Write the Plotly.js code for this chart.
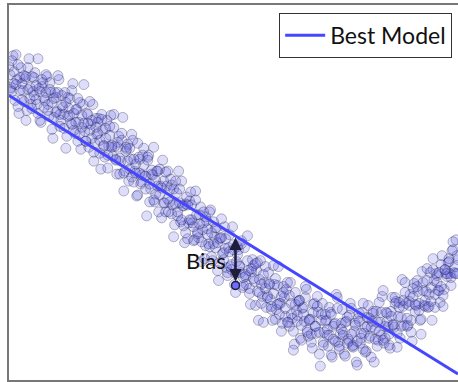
<!DOCTYPE html>
<html>
<head>
<meta charset="utf-8">
<script src="https://cdn.plot.ly/plotly-3.0.1.min.js"></script>
<style>
  html, body { margin: 0; padding: 0; background: #fff; }
  #chart { width: 458px; height: 382px; }
</style>
</head>
<body>
<div id="chart"></div>
<script>
// Noisy observations (three interleaved sweeps along x)
const obsXA = [];
for (let i = 0; i <= 225; i++) obsXA.push(2 * i);
const obsYA = [
  315,294,326,281,302,268,314,291,303,271,
  323,277,290,309,277,293,259,299,281,305,
  265,289,243,289,270,302,261,274,289,245,
  273,258,298,248,272,259,232,277,250,268,
  234,257,277,238,247,263,212,251,224,261,
  235,266,225,235,207,245,220,264,210,232,
  200,222,241,210,185,224,197,226,205,165,
  226,192,206,179,210,169,195,221,178,195,
  169,202,176,156,188,210,159,175,138,184,
  158,189,158,141,166,143,174,151,122,160,
  137,171,120,144,153,100,143,127,154,113,
  133,114,154,96,119,131,108,93,133,96,
  110,76,121,99,110,60,120,84,98,73,
  108,81,60,96,71,114,77,57,83,91,
  58,98,62,36,70,79,42,72,59,91,
  44,61,32,77,47,68,14,77,48,60,
  34,68,23,56,86,38,46,71,26,59,
  41,77,34,49,18,62,37,68,47,29,
  75,44,59,18,69,40,58,84,37,68,
  53,32,83,53,79,64,42,101,55,77,
  55,86,39,97,75,89,60,109,75,89,
  73,108,60,100,107,90,78,125,91,107,
  118,107,130,108,141,121
];
const obsXB = [];
for (let i = 0; i <= 224; i++) obsXB.push(2 * i + 1);
const obsYB = [
  292,321,298,327,275,304,282,306,261,314,
  294,273,304,282,323,261,295,284,307,271,
  299,252,283,269,306,255,286,267,233,284,
  266,291,251,272,240,279,254,297,240,258,
  280,243,220,263,248,228,267,236,253,213,
  255,234,267,221,239,207,248,190,230,237,
  212,247,199,217,186,222,206,233,192,224,
  179,207,234,187,195,212,163,200,169,210,
  179,196,144,200,165,178,200,155,177,142,
  180,161,140,190,149,166,119,169,135,152,
  169,124,137,153,110,142,162,121,132,105,
  146,111,131,88,134,115,140,95,104,145,
  87,109,115,75,118,88,96,58,114,85,
  96,71,115,61,95,77,49,94,64,98,
  54,77,30,88,59,80,40,73,94,48,
  61,38,76,54,84,26,66,38,59,45,
  73,25,54,39,83,31,57,48,24,63,
  39,72,33,57,15,67,42,77,28,54,
  62,23,67,51,34,78,45,90,42,59,
  35,69,56,83,33,78,54,74,98,54,
  79,48,92,69,100,77,46,98,74,112,
  74,93,122,73,105,90,116,74,111,104,
  122,95,139,107,125
];
const obsXC = obsXB.slice();
const obsYC = [
  307,290,310,297,317,291,298,280,305,292,
  283,305,286,296,268,290,302,274,289,277,
  292,279,264,284,289,267,276,253,279,265,
  283,257,268,259,283,248,266,258,240,267,
  251,261,229,254,259,241,262,235,243,226,
  246,236,254,222,234,223,241,208,234,220,
  233,204,222,208,238,208,199,216,205,221,
  197,211,181,201,210,186,193,178,209,182,
  191,167,192,177,169,192,161,175,148,176,
  161,176,154,181,147,157,139,158,164,146,
  134,148,159,133,138,118,143,128,142,108,
  129,116,136,107,126,114,137,103,106,120,
  92,112,102,117,89,101,77,106,92,83,
  97,74,87,102,76,66,84,88,72,58,
  85,66,49,76,65,80,55,66,83,50,
  60,46,68,54,74,48,60,35,66,51,
  45,66,41,57,72,34,51,45,58,37,
  65,46,35,55,39,59,47,31,53,63,
  42,53,69,41,58,49,68,40,54,67,
  46,64,55,77,47,73,63,80,88,62,
  75,60,84,76,94,70,61,90,80,100,
  86,79,111,86,98,108,94,85,111,107,
  119,103,131,114,107
];

// Best linear model
const modelX = [0, 450];
const modelY = [286, 6];
const modelName = 'Best Model';

// Expected value at the marked location
const biasX = [227];
const biasY = [95];
const biasLabel = 'Bias';

function modelAt(x) {
  const t = (x - modelX[0]) / (modelX[1] - modelX[0]);
  return modelY[0] + t * (modelY[1] - modelY[0]);
}

const obsX = obsXA.concat(obsXB, obsXC);
const obsY = obsYA.concat(obsYB, obsYC);

const font = 'Lato, "DejaVu Sans", sans-serif';
const navy = '#1e1e3c';

const traces = [
  {
    x: obsX, y: obsY, type: 'scatter', mode: 'markers', showlegend: false,
    hoverinfo: 'skip',
    marker: { size: 10, color: 'rgba(90,90,230,0.2)',
              line: { color: 'rgba(20,20,70,0.3)', width: 1 } }
  },
  {
    x: modelX, y: modelY, type: 'scatter', mode: 'lines', name: modelName,
    line: { color: '#4646ff', width: 3 }
  },
  {
    x: biasX, y: biasY, type: 'scatter', mode: 'markers', showlegend: false,
    marker: { size: 8, color: '#6e6eff', line: { color: navy, width: 1.5 } }
  }
];

const modelTop = modelAt(biasX[0]);

const layout = {
  width: 458, height: 382,
  margin: { l: 9, r: 0, t: 5, b: 2 },
  paper_bgcolor: '#fff', plot_bgcolor: '#fff',
  font: { family: font, color: '#111' },
  xaxis: { range: [0, 450], showgrid: false, zeroline: false, showticklabels: false,
           ticks: '', showline: true, mirror: true, linecolor: '#777', linewidth: 2 },
  yaxis: { range: [0, 377], showgrid: false, zeroline: false, showticklabels: false,
           ticks: '', showline: true, mirror: false, linecolor: '#777', linewidth: 2 },
  legend: {
    x: 0.987, y: 0.979, xanchor: 'right', yanchor: 'top',
    bgcolor: '#fff', bordercolor: '#333', borderwidth: 1, itemwidth: 40,
    font: { family: font, size: 23, color: '#111' }
  },
  annotations: [
    {
      x: biasX[0], y: biasY[0], ax: biasX[0], ay: modelTop,
      xref: 'x', yref: 'y', axref: 'x', ayref: 'y',
      text: '', showarrow: true, arrowside: 'end+start',
      arrowhead: 2, arrowsize: 1, arrowwidth: 2.5, arrowcolor: navy,
      standoff: 4, startstandoff: 0
    },
    {
      x: biasX[0], y: (biasY[0] + modelTop) / 2, xref: 'x', yref: 'y',
      text: biasLabel, showarrow: false, xanchor: 'right', yanchor: 'middle',
      xshift: -8, font: { family: font, size: 22, color: '#111' }
    }
  ]
};

Plotly.newPlot('chart', traces, layout, { displayModeBar: false, staticPlot: true });
</script>
</body>
</html>
